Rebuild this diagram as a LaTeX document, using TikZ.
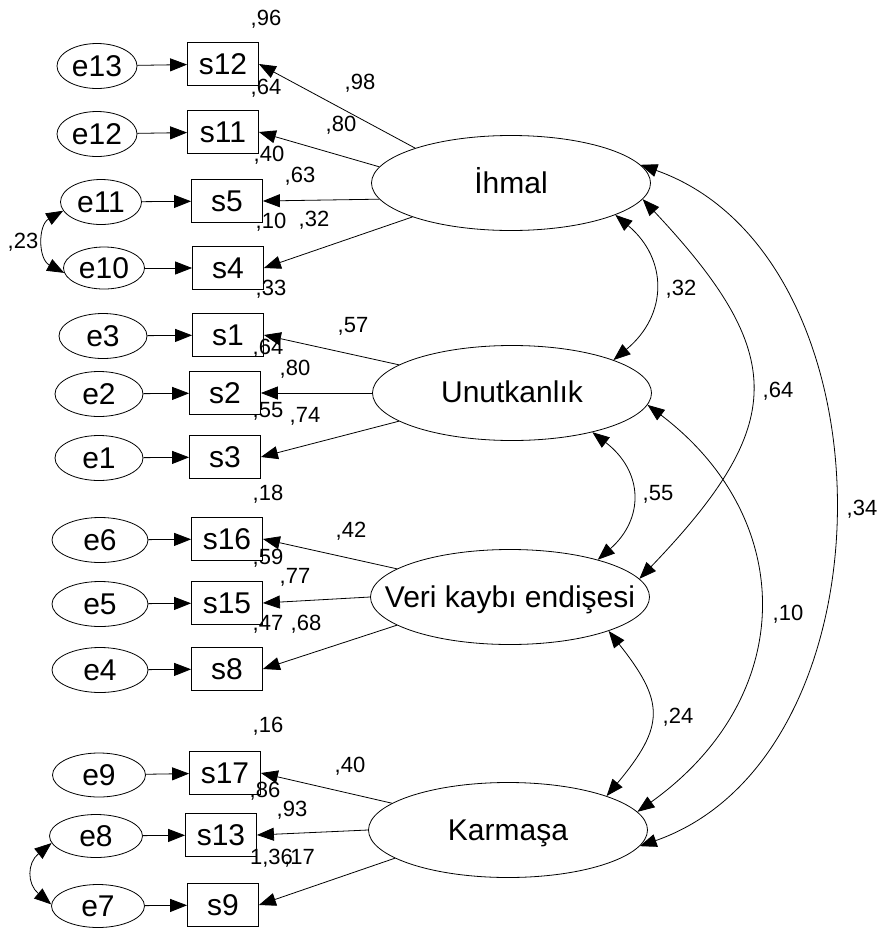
\documentclass[tikz,border=0pt]{standalone}
\usepackage{fontspec}
\setmainfont{Liberation Sans}
\usetikzlibrary{arrows.meta,shapes.geometric}

\tikzset{
  ln/.style={line width=0.8pt, draw=black},
  tip/.tip={Triangle[length=17pt,width=13pt]},
  arr/.style={ln, -tip},
  cov/.style={ln, tip-tip},
  errnode/.style={ln, ellipse, inner sep=0pt, minimum height=45pt, font=\fontsize{30}{36}\selectfont},
  obs/.style={ln, rectangle, inner sep=0pt, minimum width=71pt, minimum height=43pt, font=\fontsize{30}{36}\selectfont},
  lat/.style={ln, ellipse, inner sep=0pt, minimum width=279pt, minimum height=95pt},
  lattext/.style={anchor=base, inner sep=0pt, font=\fontsize{30}{36}\selectfont},
  val/.style={anchor=base, inner sep=0pt, font=\fontsize{22}{26}\selectfont},
}

\begin{document}
\begin{tikzpicture}[x=1pt,y=-1pt]
\useasboundingbox (0,0) rectangle (878,930);

% latent factors
\node[lat] (ihmal) at (511,183) {};
\node[lat] (unut)  at (512,393) {};
\node[lat] (veri)  at (510,597) {};
\node[lat] (karm)  at (508,830) {};
\node[lattext] (ihmalT) at (511,193) {İhmal};
\node[lattext] (unutT)  at (512,402) {Unutkanlık};
\node[lattext] (veriT)  at (510,607) {Veri kaybı endişesi};
\node[lattext] (karmT)  at (508,840) {Karmaşa};

% observed items
\node[obs] (s12) at (223,64)  {s12};
\node[obs] (s11) at (223,132) {s11};
\node[obs] (s5)  at (227,201) {s5};
\node[obs] (s4)  at (228,268) {s4};
\node[obs] (s1)  at (228,335) {s1};
\node[obs] (s2)  at (225,393) {s2};
\node[obs] (s3)  at (225,457) {s3};
\node[obs] (s16) at (227,539) {s16};
\node[obs] (s15) at (227,603) {s15};
\node[obs] (s8)  at (227,669) {s8};
\node[obs] (s17) at (225,773) {s17};
\node[obs] (s13) at (221,835) {s13};
\node[obs] (s9)  at (223,905) {s9};

% error terms
\node[errnode, minimum width=80pt] (e13) at (97,66)  {e13};
\node[errnode, minimum width=80pt] (e12) at (97,134) {e12};
\node[errnode, minimum width=81pt] (e11) at (101,202) {e11};
\node[errnode, minimum width=81pt, minimum height=42pt] (e10) at (104,268) {e10};
\node[errnode, minimum width=88pt] (e3)  at (103,336) {e3};
\node[errnode, minimum width=88pt] (e2)  at (99,394)  {e2};
\node[errnode, minimum width=88pt] (e1)  at (99,458)  {e1};
\node[errnode, minimum width=96pt] (e6)  at (100,540) {e6};
\node[errnode, minimum width=96pt] (e5)  at (100,604) {e5};
\node[errnode, minimum width=96pt] (e4)  at (100,670) {e4};
\node[errnode, minimum width=93pt, minimum height=44pt] (e9) at (99,775) {e9};
\node[errnode, minimum width=93pt, minimum height=43pt] (e8) at (96,836) {e8};
\node[errnode, minimum width=93pt, minimum height=43pt] (e7) at (98,906) {e7};

% error -> item
\foreach \e/\s in {e13/s12,e12/s11,e11/s5,e10/s4,e3/s1,e2/s2,e1/s3,e6/s16,e5/s15,e4/s8,e9/s17,e8/s13,e7/s9}
  \draw[arr] (\e) -- (\s);

% loadings
\draw[arr] (ihmal.160) -- (s12.east);
\draw[arr] (ihmal.173) -- (s11.east);
\draw[arr] (ihmal.187) -- (s5.east);
\draw[arr] (ihmal.199) -- (s4.east);
\draw[arr] (unut.166) -- (s1.east);
\draw[arr] (unut.180) -- (s2.east);
\draw[arr] (unut.194) -- (s3.east);
\draw[arr] (veri.166) -- (s16.east);
\draw[arr] (veri.180) -- (s15.east);
\draw[arr] (veri.194) -- (s8.east);
\draw[arr] (karm.167) -- (s17.east);
\draw[arr] (karm.180) -- (s13.east);
\draw[arr] (karm.194) -- (s9.east);

% error covariances
\draw[cov] (e11.193) .. controls (38,225) and (38,259) .. (e10.187);
\draw[cov] (e8.189) .. controls (27,863) and (27,884) .. (e7.178);

% factor covariances
\draw[cov] (ihmal.343) .. controls (668,259) and (668,315) .. (unut.18);
\draw[cov] (unut.334) .. controls (644,472) and (644,519) .. (veri.23);
\draw[cov] (veri.341) .. controls (665,702) and (665,726) .. (karm.19);
\draw[cov] (ihmal.353) .. controls (788,354) and (788,424) .. (veri.8);
\draw[cov] (unut.355) .. controls (798,519) and (798,697) .. (karm.8);
\draw[cov] (ihmal.8) .. controls (898,256) and (898,756) .. (karm.353);

% estimates
\node[val] (r12) at (266,25) {,96};
\node[val] (l12) at (360,89) {,98};
\node[val] (r11) at (266,94) {,64};
\node[val] (l11) at (341,131) {,80};
\node[val] (r5)  at (269,161) {,40};
\node[val] (l5)  at (300,182) {,63};
\node[val] (r4)  at (271,228) {,10};
\node[val] (l4)  at (314,226) {,32};
\node[val] (r1)  at (271,295) {,33};
\node[val] (c1011) at (23,248) {,23};
\node[val] (l1)  at (353,332) {,57};
\node[val] (r2)  at (268,354) {,64};
\node[val] (l2)  at (295,375) {,80};
\node[val] (r3)  at (268,417) {,55};
\node[val] (l3)  at (305,422) {,74};
\node[val] (r16) at (268,500) {,18};
\node[val] (l16) at (351,537) {,42};
\node[val] (r15) at (268,564) {,59};
\node[val] (l15) at (295,583) {,77};
\node[val] (r8)  at (268,630) {,47};
\node[val] (l8)  at (306,630) {,68};
\node[val] (r17) at (268,732) {,16};
\node[val] (l17) at (350,772) {,40};
\node[val] (r13) at (265,797) {,86};
\node[val] (l13) at (292,816) {,93};
\node[val] (r9)  at (271.5,864) {1,36};
\node[val] (l9)  at (299.5,864) {,17};
\node[val] (cIU) at (681,295) {,32};
\node[val] (cIV) at (778,397) {,64};
\node[val] (cUV) at (658,500) {,55};
\node[val] (cUK) at (788,620) {,10};
\node[val] (cVK) at (678,723) {,24};
\node[val] (cIK) at (862,515) {,34};
\end{tikzpicture}
\end{document}
